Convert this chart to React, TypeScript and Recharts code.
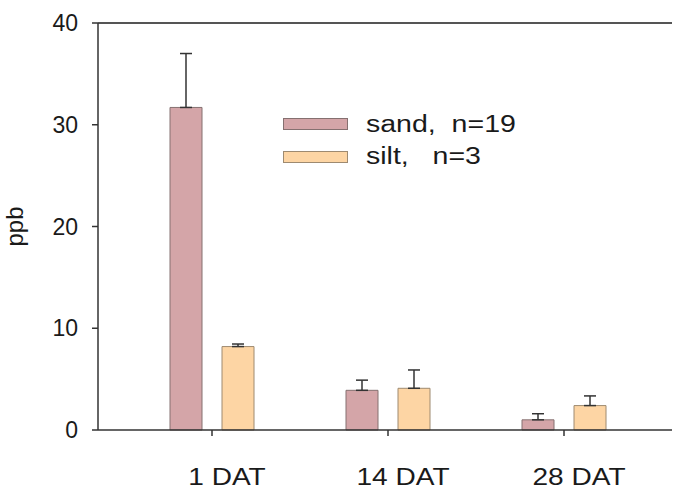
import React from 'react'
import { BarChart, Bar, XAxis, YAxis, ErrorBar, ReferenceLine } from 'recharts'

const categories = ['1 DAT', '14 DAT', '28 DAT']
const sandValues = [31.7, 3.9, 1.0]
const sandErrors = [5.3, 1.0, 0.6]
const siltValues = [8.2, 4.1, 2.4]
const siltErrors = [0.25, 1.8, 0.95]
const yTicks = [0, 10, 20, 30, 40]
const legendLabels = ['sand,  n=19', 'silt,   n=3']

const data = categories.map((name, i) => ({
  name,
  sand: sandValues[i],
  sandErr: [0, sandErrors[i]],
  silt: siltValues[i],
  siltErr: [0, siltErrors[i]],
}))

const font = '"Liberation Sans", Arial, sans-serif'
const textColor = '#1a1a1a'
const sandFill = '#d4a5a8'
const sandStroke = '#857070'
const siltFill = '#fdd5a4'
const siltStroke = '#9e8a70'

// the category labels in the source are drawn a bit wider than plain Arial
function CategoryTick(props: any) {
  const { x, y, payload } = props
  return (
    <g transform={`translate(${x + 15},${y + 30}) scale(1.17,1)`}>
      <text x={0} y={0} dy="0.71em" textAnchor="middle" fill={textColor} fontSize={24} fontFamily={font}>
        {payload.value}
      </text>
    </g>
  )
}

function LegendBox() {
  const rows = [
    { label: legendLabels[0], fill: sandFill, stroke: sandStroke },
    { label: legendLabels[1], fill: siltFill, stroke: siltStroke },
  ]
  return (
    <div style={{ position: 'absolute', left: 283, top: 108, fontFamily: font, fontSize: 23, color: textColor }}>
      {rows.map((r) => (
        <div key={r.label} style={{ display: 'flex', alignItems: 'center', height: 32.5 }}>
          <div style={{ width: 63, height: 10, background: r.fill, border: `1px solid ${r.stroke}`, marginRight: 18 }} />
          <span style={{ whiteSpace: 'pre', display: 'inline-block', transform: 'scaleX(1.24)', transformOrigin: 'left center' }}>
            {r.label}
          </span>
        </div>
      ))}
    </div>
  )
}

export default function App() {
  return (
    <div style={{ position: 'absolute', left: 0, top: 0, width: 674, height: 491, background: '#fff' }}>
      <BarChart
        width={674}
        height={491}
        data={data}
        margin={{ top: 23, right: 2, left: 0, bottom: 0 }}
        barSize={32}
        barGap={20}
      >
        <ReferenceLine y={40} stroke="#555" strokeWidth={2} />
        <XAxis
          dataKey="name"
          height={61}
          padding={{ left: 26, right: 20 }}
          stroke="#333"
          strokeWidth={1.5}
          tickSize={6}
          tick={<CategoryTick />}
        />
        <YAxis
          width={98}
          domain={[0, 40]}
          ticks={yTicks}
          stroke="#333"
          strokeWidth={1.5}
          tickSize={6}
          tickMargin={14}
          tick={{ fill: textColor, fontSize: 23, fontFamily: font }}
          label={{ value: 'ppb', angle: -90, position: 'insideLeft', offset: 14, style: { fill: textColor, fontSize: 24, fontFamily: font, textAnchor: 'middle' } }}
        />
        <Bar dataKey="sand" fill={sandFill} stroke={sandStroke} strokeWidth={1} isAnimationActive={false}>
          <ErrorBar dataKey="sandErr" width={6} stroke="#333" strokeWidth={1.5} direction="y" />
        </Bar>
        <Bar dataKey="silt" fill={siltFill} stroke={siltStroke} strokeWidth={1} isAnimationActive={false}>
          <ErrorBar dataKey="siltErr" width={6} stroke="#333" strokeWidth={1.5} direction="y" />
        </Bar>
      </BarChart>
      <LegendBox />
    </div>
  )
}
